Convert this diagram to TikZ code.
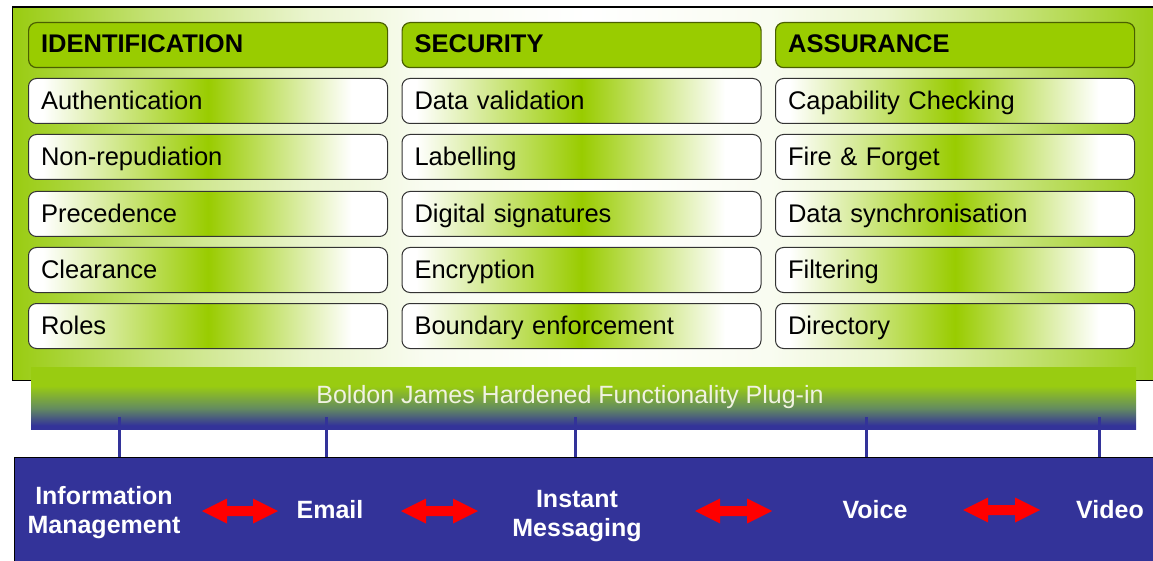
\documentclass[tikz,border=0pt]{standalone}
\usepackage{fontspec}
\setmainfont{Liberation Sans}
\usetikzlibrary{calc}
\definecolor{bjgreen}{RGB}{153,204,0}
\definecolor{panelgreen}{RGB}{153,204,17}
\definecolor{bjblue}{RGB}{51,51,153}
\definecolor{hdrborder}{RGB}{74,95,0}
\definecolor{plugtext}{RGB}{240,242,225}
\definecolor{barmid}{RGB}{100,140,95}
\colorlet{pgsixty}{panelgreen!58!white}
\colorlet{pgtwenty}{panelgreen!20!white}
\colorlet{pgfive}{panelgreen!6!white}
\pgfdeclarehorizontalshading{boxshade}{100bp}{color(0bp)=(white); color(27bp)=(white); color(50bp)=(bjgreen); color(70bp)=(white); color(100bp)=(white)}
\pgfdeclarehorizontalshading{panelshade}{100bp}{color(0bp)=(panelgreen); color(25bp)=(panelgreen); color(31bp)=(pgsixty); color(38bp)=(pgtwenty); color(43bp)=(pgfive); color(50bp)=(white); color(58bp)=(pgfive); color(63bp)=(pgtwenty); color(69bp)=(pgsixty); color(75bp)=(panelgreen); color(100bp)=(panelgreen)}
\pgfdeclareverticalshading{barshade}{100bp}{color(0bp)=(bjblue); color(28bp)=(bjblue); color(42bp)=(barmid); color(60bp)=(panelgreen); color(100bp)=(panelgreen)}
\newcommand\bjdblarrow[2]{%
  \fill[red] (#1) -- ($(#1)+(25,-12.5)$) -- ($(#1)+(25,-5)$) -- ($(#2)+(-25,-5)$)
    -- ($(#2)+(-25,-12.5)$) -- (#2) -- ($(#2)+(-25,12.5)$) -- ($(#2)+(-25,5)$)
    -- ($(#1)+(25,5)$) -- ($(#1)+(25,12.5)$) -- cycle;}
\begin{document}
\begin{tikzpicture}[x=1pt,y=-1pt,
  hdr/.style={draw=hdrborder, line width=1.2pt, fill=bjgreen, rounded corners=8pt,
    anchor=north west, minimum width=359pt, minimum height=45pt, text width=334pt,
    inner xsep=12.5pt, align=left, font=\fontsize{25.5}{30}\selectfont\bfseries,
    text height=15pt, text depth=0pt},
  itembox/.style={draw=black!80, line width=1pt, rounded corners=8pt, shading=boxshade,
    anchor=north west, minimum width=359pt, minimum height=45pt, text width=334pt,
    inner xsep=12.5pt, align=left, font=\fontsize{25.5}{30}\selectfont,
    text height=17.5pt, text depth=0pt},
  medialabel/.style={text=white, align=center, inner sep=0pt,
    font=\fontsize{25}{28.5}\selectfont\bfseries},
  conn/.style={draw=bjblue, line width=3pt}
]
\useasboundingbox (0,0) rectangle (1153,561);
% outer green panel
\node[anchor=north west, inner sep=0pt, minimum width=1148pt, minimum height=373pt,
  shading=panelshade] (panel) at (12.5,7) {};
\draw[line width=1.5pt] (panel.north east) -- (panel.north west) -- (panel.south west) -- (panel.south east);
% column headers
\node[hdr] (h1) at (28,22) {IDENTIFICATION};
\node[hdr] (h2) at (401.5,22) {SECURITY};
\node[hdr] (h3) at (775,22) {ASSURANCE};
% column 1
\node[itembox] (a1) at (28,78)  {Authentication};
\node[itembox] (a2) at (28,134) {Non-repudiation};
\node[itembox] (a3) at (28,191) {Precedence};
\node[itembox] (a4) at (28,247) {Clearance};
\node[itembox] (a5) at (28,303) {Roles};
% column 2
\node[itembox] (b1) at (401.5,78)  {Data validation};
\node[itembox] (b2) at (401.5,134) {Labelling};
\node[itembox] (b3) at (401.5,191) {Digital signatures};
\node[itembox] (b4) at (401.5,247) {Encryption};
\node[itembox] (b5) at (401.5,303) {Boundary enforcement};
% column 3
\node[itembox] (c1) at (775,78)  {Capability Checking};
\node[itembox] (c2) at (775,134) {Fire \& Forget};
\node[itembox] (c3) at (775,191) {Data synchronisation};
\node[itembox] (c4) at (775,247) {Filtering};
\node[itembox] (c5) at (775,303) {Directory};
% plug-in bar
\node[anchor=north west, inner sep=0pt, minimum width=1105pt, minimum height=62pt,
  shading=barshade] (bar) at (31,367) {};
\node[anchor=base, text=plugtext, inner sep=0pt, font=\fontsize{25}{30}\selectfont] (plug) at (570,403)
  {Boldon James Hardened Functionality Plug-in};
% blue base panel
\node[anchor=north west, inner sep=0pt, minimum width=1146pt, minimum height=110pt,
  fill=bjblue, draw=black, line width=0.8pt] (base) at (14,457) {};
% media labels
\node[medialabel] (im) at (104,512.5) {Information\\Management};
\node[medialabel, anchor=base] (email) at (330,518.5) {Email};
\node[medialabel] (inst) at (577,516) {Instant\\Messaging};
\node[medialabel, anchor=base] (voice) at (875,518.5) {Voice};
\node[medialabel, anchor=base] (video) at (1110,518.5) {Video};
% connectors from plug-in bar to base
\coordinate (t1) at (119,417);
\coordinate (t2) at (326,417);
\coordinate (t3) at (575,417);
\coordinate (t4) at (866,417);
\coordinate (t5) at (1099,417);
\foreach \t in {t1,t2,t3,t4,t5} \draw[conn] (\t) -- (\t |- base.north);
% red double arrows
\coordinate (l1) at (202,511); \coordinate (r1) at (278,511);
\coordinate (l2) at (401,511); \coordinate (r2) at (478,511);
\coordinate (l3) at (695,511); \coordinate (r3) at (772,511);
\coordinate (l4) at (963,510); \coordinate (r4) at (1040,510);
\bjdblarrow{l1}{r1}
\bjdblarrow{l2}{r2}
\bjdblarrow{l3}{r3}
\bjdblarrow{l4}{r4}
\end{tikzpicture}
\end{document}
